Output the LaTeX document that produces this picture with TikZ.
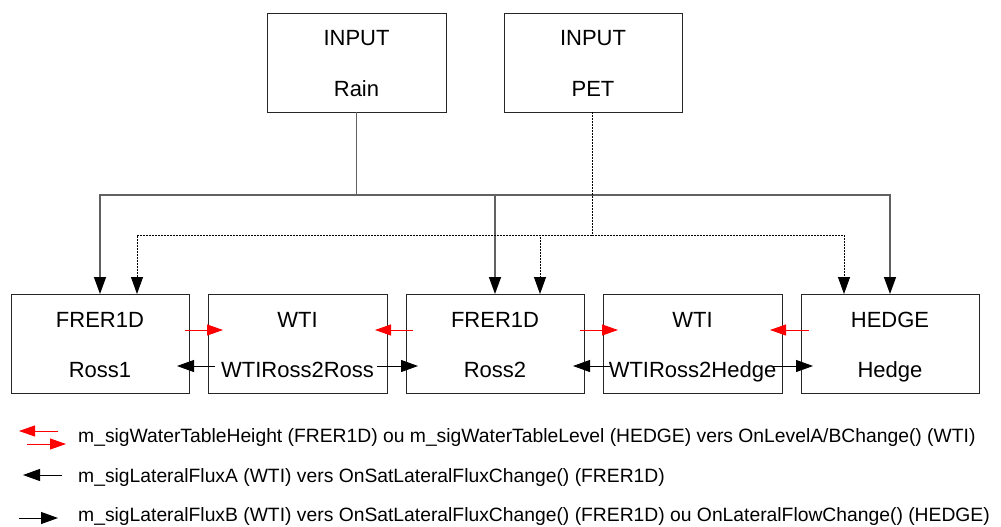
\documentclass[tikz,border=0pt]{standalone}
\usepackage{fontspec}
\setmainfont{Liberation Sans}
\usetikzlibrary{arrows.meta,calc}
\tikzset{
  box/.style={draw=black!85, line width=1pt, minimum width=178pt, minimum height=98pt, inner sep=0pt, outer sep=0pt},
  btxt/.style={font=\fontsize{22}{24}\selectfont, inner sep=0pt, anchor=base},
  ltxt/.style={font=\fontsize{19.3}{22}\selectfont, inner sep=0pt, anchor=base west},
  tip/.style={-{Triangle[length=17pt,width=12pt,color=black]}},
  rainline/.style={draw=black!62, line width=1.4pt, tip},
  petline/.style={draw=black, line width=0.9pt, dash pattern=on 1.6pt off 1.4pt, tip},
  redarr/.style={draw=red, line width=0.9pt, -{Triangle[length=16pt,width=11pt]}, fill=red},
  blkarr/.style={draw=black, line width=1pt, -{Triangle[length=17pt,width=12pt]}},
}
\begin{document}
\begin{tikzpicture}[x=1pt,y=-1pt]
\useasboundingbox (0,0) rectangle (1001,527);
% top boxes
\node[box, minimum width=179pt] (rain) at (356.5,63) {};
\node[box] (pet) at (593,63) {};
\node[btxt] (rainT) at (356.5,46) {INPUT};
\node[btxt] (rainN) at (356.5,96) {Rain};
\node[btxt] (petT) at (593,46) {INPUT};
\node[btxt] (petN) at (593,96) {PET};
% bottom boxes
\node[box, minimum height=99pt] (f1) at (100,343.5) {};
\node[box, minimum width=179pt, minimum height=99pt] (w1) at (297.5,343.5) {};
\node[box, minimum height=99pt] (f2) at (495,343.5) {};
\node[box, minimum width=179pt, minimum height=99pt] (w2) at (692.5,343.5) {};
\node[box, minimum height=99pt] (h) at (890,343.5) {};
\node[btxt] (f1T) at (100,327) {FRER1D};
\node[btxt] (f1N) at (100,377) {Ross1};
\node[btxt] (w1T) at (297.5,327) {WTI};
\node[btxt] (w1N) at (297.5,377) {WTIRoss2Ross};
\node[btxt] (f2T) at (495,327) {FRER1D};
\node[btxt] (f2N) at (495,377) {Ross2};
\node[btxt] (w2T) at (692.5,327) {WTI};
\node[btxt] (w2N) at (692.5,377) {WTIRoss2Hedge};
\node[btxt] (hT) at (890,327) {HEDGE};
\node[btxt] (hN) at (890,377) {Hedge};
% buses
\coordinate (busR) at (0,195);
\coordinate (busP) at (0,235);
\draw[rainline] (rain.south) -- (rain.south |- busR) -| (f1.north);
\draw[rainline] (rain.south) -- (rain.south |- busR) -| (f2.north);
\draw[rainline] (rain.south) -- (rain.south |- busR) -| (h.north);
\draw[petline] ([xshift=-1pt]pet.south) -- ([xshift=-1pt]pet.south |- busP) -| ([xshift=37pt]f1.north);
\draw[petline] ([xshift=-1pt]pet.south) -- ([xshift=-1pt]pet.south |- busP) -| ([xshift=45pt]f2.north);
\draw[petline] ([xshift=-1pt]pet.south) -- ([xshift=-1pt]pet.south |- busP) -| ([xshift=-46pt]h.north);
% red arrows
\draw[redarr] ([shift={(-4,36)}]f1.north east) -- ([shift={(15,36)}]w1.north west);
\draw[redarr] ([shift={(7,36)}]f2.north west) -- ([shift={(-12,36)}]w1.north east);
\draw[redarr] ([shift={(-4,36)}]f2.north east) -- ([shift={(15,36)}]w2.north west);
\draw[redarr] ([shift={(8,36)}]h.north west) -- ([shift={(-12,36)}]w2.north east);
% black arrows
\draw[blkarr] ([shift={(7,72)}]w1.north west) -- ([shift={(-12,72)}]f1.north east);
\draw[blkarr] ([shift={(-10,72)}]w1.north east) -- ([shift={(12,72)}]f2.north west);
\draw[blkarr] ([shift={(7,72)}]w2.north west) -- ([shift={(-11,72)}]f2.north east);
\draw[blkarr] ([shift={(-10,72)}]w2.north east) -- ([shift={(12,72)}]h.north west);
% legend
\coordinate (l1a) at (58,431);
\coordinate (l1b) at (19,431);
\coordinate (l1c) at (27,444);
\coordinate (l1d) at (66,444);
\coordinate (l2a) at (62,475);
\coordinate (l2b) at (23,475);
\coordinate (l3a) at (19,518);
\coordinate (l3b) at (58,518);
\draw[redarr] (l1a) -- (l1b);
\draw[redarr] (l1c) -- (l1d);
\draw[blkarr] (l2a) -- (l2b);
\draw[blkarr] (l3a) -- (l3b);
\node[ltxt] (leg1) at (78,442) {m\_sigWaterTableHeight (FRER1D) ou m\_sigWaterTableLevel (HEDGE) vers OnLevelA/BChange() (WTI)};
\node[ltxt] (leg2) at (78,482) {m\_sigLateralFluxA (WTI) vers OnSatLateralFluxChange() (FRER1D)};
\node[ltxt] (leg3) at (78,521) {m\_sigLateralFluxB (WTI) vers OnSatLateralFluxChange() (FRER1D) ou OnLateralFlowChange() (HEDGE)};
\end{tikzpicture}
\end{document}
